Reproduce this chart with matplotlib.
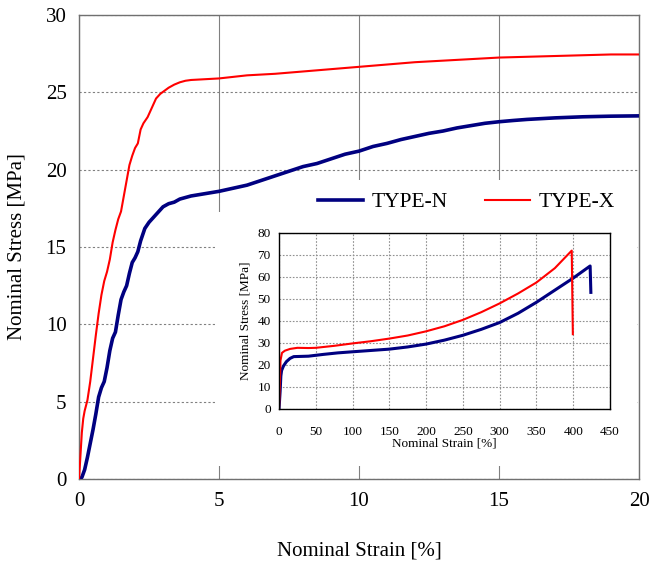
import matplotlib.pyplot as plt
from matplotlib.patches import Rectangle

plt.rcParams['font.family'] = ['Liberation Serif', 'DejaVu Serif']

# main chart: nominal strain [%] vs nominal stress [MPa], first 20 %
strain_n = [0, 0.1, 0.2, 0.3, 0.4, 0.5, 0.6, 0.7, 0.8, 0.9, 1.0, 1.1, 1.2, 1.3, 1.4,
            1.5, 1.6, 1.7, 1.8, 1.9, 2.0, 2.1, 2.2, 2.35, 2.5, 2.65, 2.8, 3.0, 3.2,
            3.4, 3.6, 3.8, 4.0, 4.5, 5.0, 5.5, 6.0, 6.5, 7.0, 7.5, 8.0, 8.5, 9.0,
            9.5, 10.0, 10.5, 11.0, 11.5, 12.0, 12.5, 13.0, 13.5, 14.0, 14.5, 15.0,
            15.5, 16.0, 17.0, 18.0, 19.0, 20.0]
stress_n = [0, 0.1, 0.6, 1.4, 2.3, 3.2, 4.2, 5.3, 5.9, 6.3, 7.2, 8.3, 9.1, 9.5, 10.6,
            11.6, 12.1, 12.5, 13.3, 14.0, 14.3, 14.7, 15.4, 16.2, 16.6, 16.9, 17.2,
            17.6, 17.8, 17.9, 18.1, 18.2, 18.3, 18.45, 18.6, 18.8, 19.0, 19.3, 19.6,
            19.9, 20.2, 20.4, 20.7, 21.0, 21.2, 21.5, 21.7, 21.95, 22.15, 22.35,
            22.5, 22.7, 22.85, 23.0, 23.1, 23.18, 23.25, 23.35, 23.42, 23.46, 23.48]

strain_x = [0, 0.05, 0.1, 0.15, 0.2, 0.3, 0.4, 0.5, 0.6, 0.7, 0.8, 0.9, 1.0, 1.1,
            1.2, 1.3, 1.4, 1.5, 1.6, 1.7, 1.8, 1.9, 2.0, 2.1, 2.2, 2.3, 2.45, 2.6,
            2.75, 2.9, 3.05, 3.2, 3.4, 3.6, 3.8, 4.0, 4.5, 5.0, 5.5, 6.0, 7.0, 8.0,
            9.0, 10.0, 11.0, 12.0, 13.0, 14.0, 15.0, 16.0, 17.0, 18.0, 19.0, 20.0]
stress_x = [0, 1.5, 3.0, 3.9, 4.4, 5.1, 6.3, 7.8, 9.3, 10.7, 11.9, 12.8, 13.4, 14.2,
            15.3, 16.1, 16.8, 17.3, 18.3, 19.3, 20.3, 20.9, 21.4, 21.7, 22.6, 23.0,
            23.4, 24.0, 24.6, 24.9, 25.1, 25.3, 25.5, 25.65, 25.75, 25.8, 25.85,
            25.9, 26.0, 26.1, 26.2, 26.35, 26.5, 26.65, 26.8, 26.95, 27.05, 27.15,
            27.25, 27.3, 27.35, 27.4, 27.45, 27.45]

# inset: full curves to fracture
in_strain_n = [0, 1.5, 2.5, 3.5, 6, 10, 15, 20, 30, 40, 60, 80, 100, 125, 150, 175,
               200, 225, 250, 275, 300, 325, 350, 375, 400, 423, 424]
in_stress_n = [0, 8, 15, 17.5, 19.5, 21.5, 23, 23.8, 23.9, 24, 24.8, 25.5, 26,
               26.6, 27.2, 28.2, 29.5, 31.3, 33.5, 36.2, 39.3, 43.5, 48.5, 54,
               59.5, 65, 53]

in_strain_x = [0, 1, 2, 4, 8, 15, 25, 40, 50, 75, 100, 125, 150, 175, 200, 225, 250,
               275, 300, 325, 350, 375, 398, 399.5]
in_stress_x = [0, 10, 22, 25.5, 26.5, 27.3, 27.8, 27.7, 27.8, 28.7, 29.8, 30.8,
               32, 33.4, 35.3, 37.6, 40.5, 44, 48, 52.5, 57.5, 64, 72, 34]

fig = plt.figure(figsize=(6.51, 5.67), dpi=100)
ax = fig.add_axes([0.1214, 0.1552, 0.8602, 0.8183])

ax.plot(strain_n, stress_n, color='#000080', lw=2.6, zorder=5, label='TYPE-N')
ax.plot(strain_x, stress_x, color='#ff0000', lw=1.5, zorder=5, label='TYPE-X')
ax.set_xlim(0, 20)
ax.set_ylim(0, 30)
ax.set_xticks([0, 5, 10, 15, 20])
ax.set_yticks([0, 5, 10, 15, 20, 25, 30])
ax.tick_params(length=0, labelsize=15, pad=9)
ax.xaxis.grid(True, color='#808080', lw=0.8, ls='-')
ax.yaxis.grid(True, color='#808080', lw=0.8, ls=(0, (2, 2)))
for s in ax.spines.values():
    s.set_color('#707070')
    s.set_linewidth(1.0)
ax.set_xlabel('Nominal Strain [%]', fontsize=15, labelpad=22)
ax.set_ylabel('Nominal Stress [MPa]', fontsize=15, labelpad=14)

# white areas behind legend and inset
ax.add_patch(Rectangle((0.243, 0.028), 0.753, 0.547, transform=ax.transAxes,
                       facecolor='white', edgecolor='none', zorder=3))
ax.add_patch(Rectangle((0.261, 0.575), 0.735, 0.07, transform=ax.transAxes,
                       facecolor='white', edgecolor='none', zorder=3))

leg = ax.legend(loc='center', bbox_to_anchor=(0.692, 0.597), ncol=2, frameon=False,
                fontsize=15.5, handlelength=2.1, handletextpad=0.4, columnspacing=1.7,
                borderpad=0, borderaxespad=0)

ins = fig.add_axes([0.4286, 0.2787, 0.5084, 0.3104])
ins.plot(in_strain_n, in_stress_n, color='#000080', lw=2.2)
ins.plot(in_strain_x, in_stress_x, color='#ff0000', lw=1.5)
ins.set_xlim(0, 450)
ins.set_ylim(0, 80)
ins.set_xticks(range(0, 451, 50))
ins.set_yticks(range(0, 81, 10))
ins.tick_params(axis='x', length=0, labelsize=9.5, pad=12)
ins.tick_params(axis='y', length=0, labelsize=9.5, pad=6)
ins.grid(True, color='#909090', lw=0.8, ls=(0, (1.5, 1.5)))
for s in ins.spines.values():
    s.set_color('black')
    s.set_linewidth(1.0)
ins.set_xlabel('Nominal Strain [%]', fontsize=9.5, labelpad=0)
ins.set_ylabel('Nominal Stress [MPa]', fontsize=9.5, labelpad=4)

fig.savefig('out.png', dpi=100)
